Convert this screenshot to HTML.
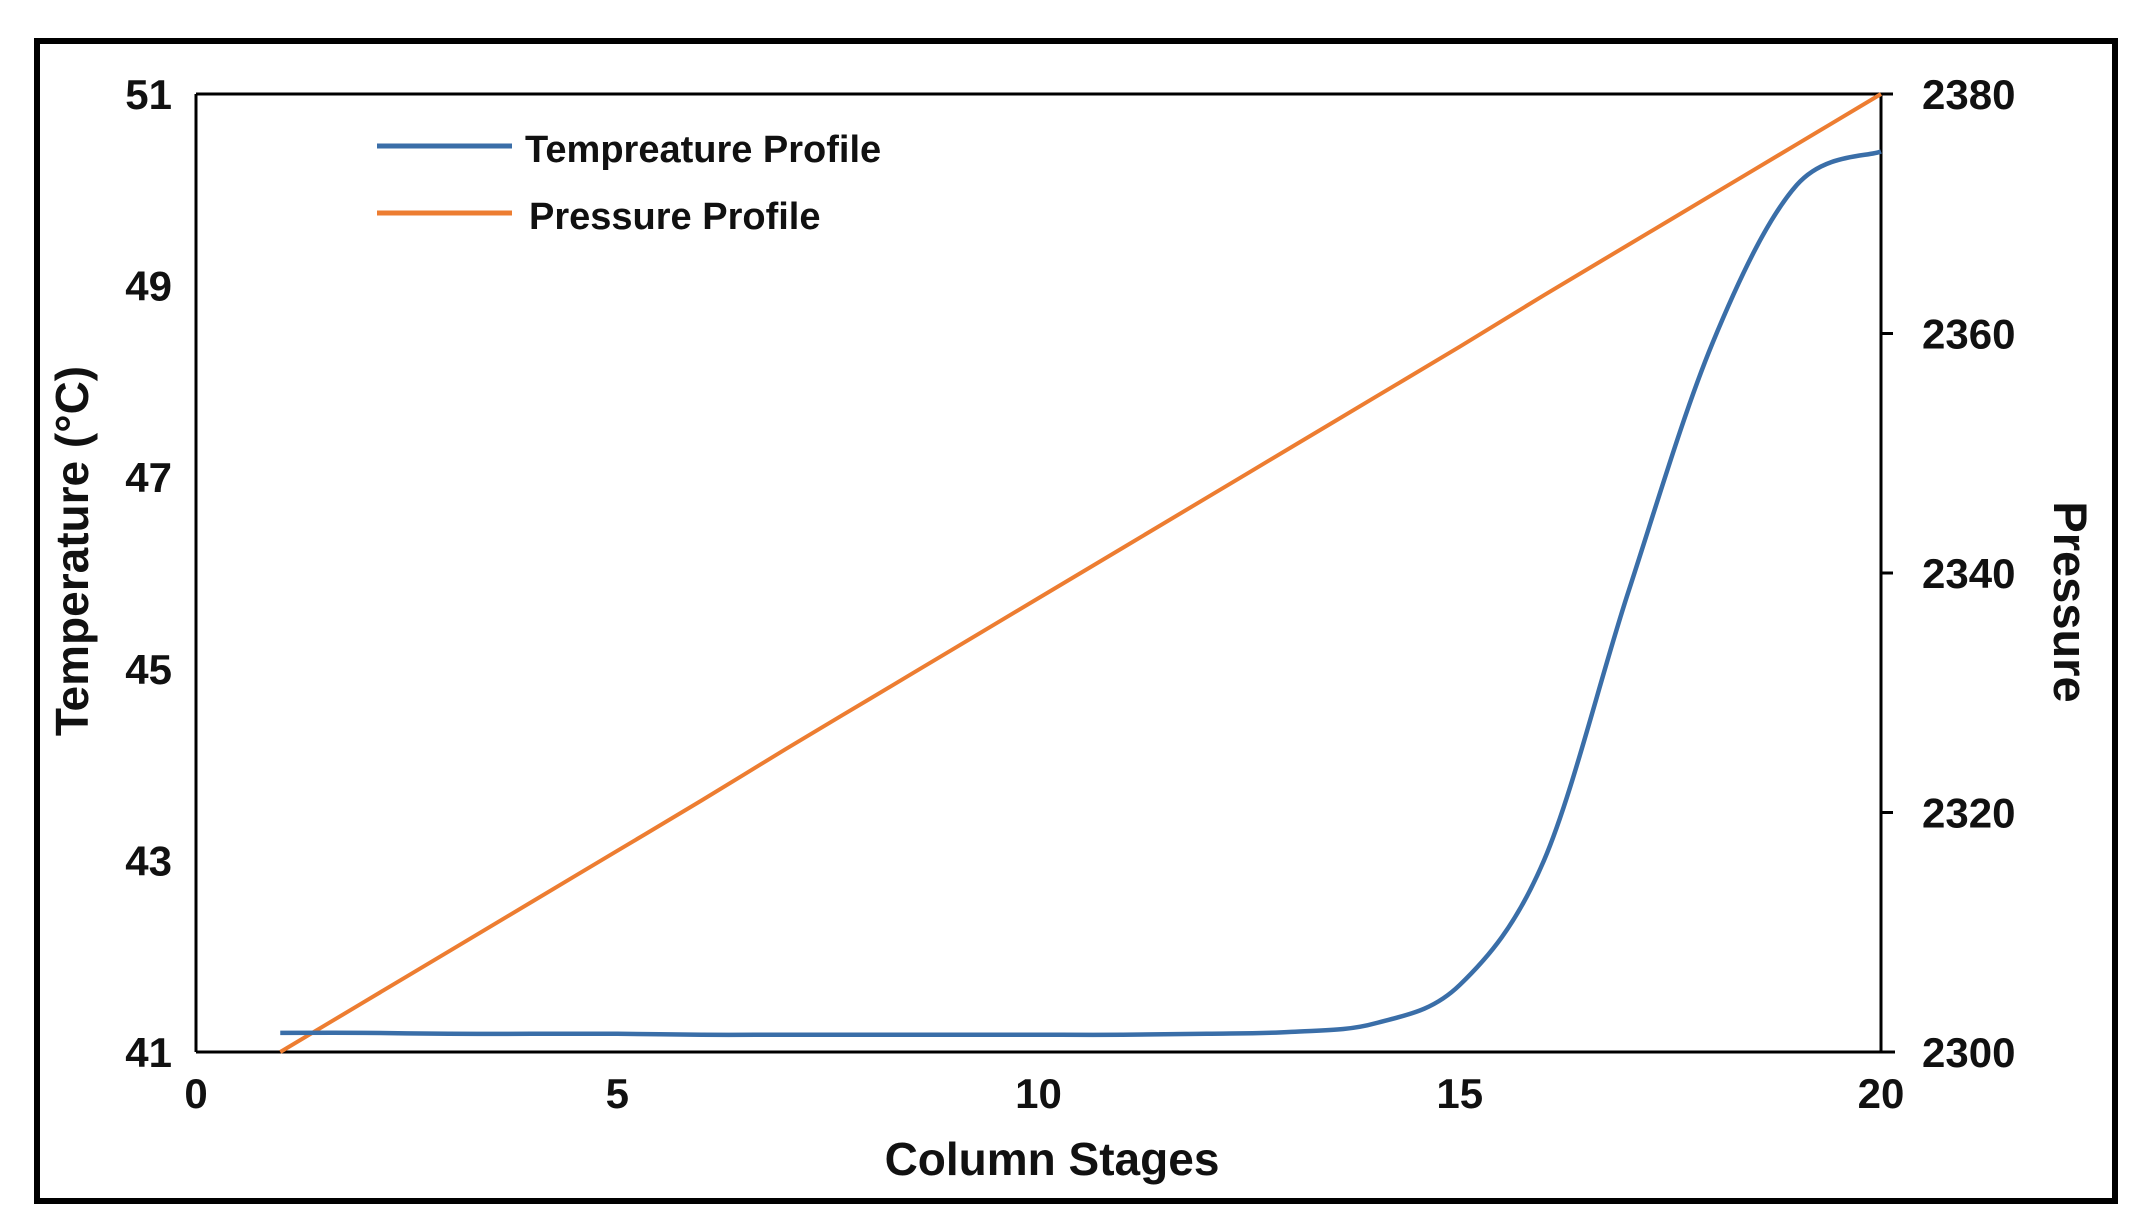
<!DOCTYPE html>
<html><head><meta charset="utf-8"><style>
html,body{margin:0;padding:0;background:#fff;}
svg{display:block;font-family:"Liberation Sans",Arial,sans-serif;font-weight:bold;}
</style></head><body>
<svg id="chart" width="2149" height="1226" viewBox="0 0 2149 1226">
<rect x="37" y="41" width="2078" height="1160" fill="none" stroke="#000" stroke-width="6"/>
<g id="plot"></g>
</svg>
<script>
const stages = [1,2,3,4,5,6,7,8,9,10,11,12,13,14,15,16,17,18,19,20];
const temperature = [41.2,41.2,41.19,41.19,41.19,41.18,41.18,41.18,41.18,41.18,41.18,41.19,41.21,41.3,41.7,43.0,45.8,48.4,50.05,50.4];
const pressure = [2300,2304.2,2308.4,2312.6,2316.8,2321,2325.3,2329.5,2333.7,2337.9,2342.1,2346.3,2350.5,2354.7,2358.9,2363.2,2367.4,2371.6,2375.8,2380];
const xTicks = [0,5,10,15,20];
const tTicks = [41,43,45,47,49,51];
const pTicks = [2300,2320,2340,2360,2380];

const L=196,R=1881,T=94,B=1052;
const xs=v=>L+(v-0)/(20-0)*(R-L);
const yt=v=>B-(v-41)/(51-41)*(B-T);
const yp=v=>B-(v-2300)/(2380-2300)*(B-T);
const NS='http://www.w3.org/2000/svg';
const g=document.getElementById('plot');
function mk(tag,attrs,txt){const e=document.createElementNS(NS,tag);for(const k in attrs)e.setAttribute(k,attrs[k]);if(txt!==undefined)e.textContent=txt;g.appendChild(e);return e;}
function smooth(pts){let d=`M${pts[0][0]},${pts[0][1]}`;for(let i=0;i<pts.length-1;i++){const p0=pts[i-1]||pts[i],p1=pts[i],p2=pts[i+1],p3=pts[i+2]||p2;const c1=[p1[0]+(p2[0]-p0[0])/6,p1[1]+(p2[1]-p0[1])/6],c2=[p2[0]-(p3[0]-p1[0])/6,p2[1]-(p3[1]-p1[1])/6];d+=` C${c1[0]},${c1[1]} ${c2[0]},${c2[1]} ${p2[0]},${p2[1]}`;}return d;}

let e;
e=mk('line',{x1:L,y1:T,x2:R,y2:T,stroke:'#000','stroke-width':3});


e=mk('line',{x1:L,y1:T,x2:L,y2:B,stroke:'#000','stroke-width':3});


e=mk('line',{x1:R,y1:T,x2:R,y2:B,stroke:'#000','stroke-width':3});


e=mk('line',{x1:L,y1:B,x2:R+14,y2:B,stroke:'#000','stroke-width':3});



xTicks.forEach(v=>{
 const t=mk('text',{x:xs(v),y:B+56,'font-size':42,'text-anchor':'middle',fill:'#111'},v);
 
 
});
tTicks.forEach(v=>{
 const t=mk('text',{x:172,y:yt(v)+15,'font-size':42,'text-anchor':'end',fill:'#111'},v);
 
 
});
pTicks.forEach(v=>{
 const tk=mk('line',{x1:R,y1:yp(v),x2:R+12,y2:yp(v),stroke:'#000','stroke-width':3});
 
 
 const t=mk('text',{x:1922,y:yp(v)+15,'font-size':42,fill:'#111'},v);
 
 
});
e=mk('text',{x:1052,y:1175,'font-size':46,'text-anchor':'middle',fill:'#111'},'Column Stages');


e=mk('text',{x:0,y:0,'font-size':46,'text-anchor':'middle',fill:'#111',transform:`translate(88,551) rotate(-90)`},'Temperature (°C)');


e=mk('text',{x:0,y:0,'font-size':47,'text-anchor':'middle',fill:'#111',transform:`translate(2054,602) rotate(90)`},'Pressure');



e=mk('path',{d:smooth(stages.map((s,i)=>[xs(s),yp(pressure[i])])),fill:'none',stroke:'#ED7D31','stroke-width':4});


e=mk('path',{d:smooth(stages.map((s,i)=>[xs(s),yt(temperature[i])])),fill:'none',stroke:'#3A6EA8','stroke-width':4.5});



e=mk('line',{x1:377,y1:146,x2:512,y2:146,stroke:'#3A6EA8','stroke-width':5});


e=mk('text',{x:525,y:162,'font-size':38,fill:'#111'},'Tempreature Profile');


e=mk('line',{x1:377,y1:213,x2:512,y2:213,stroke:'#ED7D31','stroke-width':5});


e=mk('text',{x:529,y:229,'font-size':38,fill:'#111'},'Pressure Profile');


</script>
</body></html>
